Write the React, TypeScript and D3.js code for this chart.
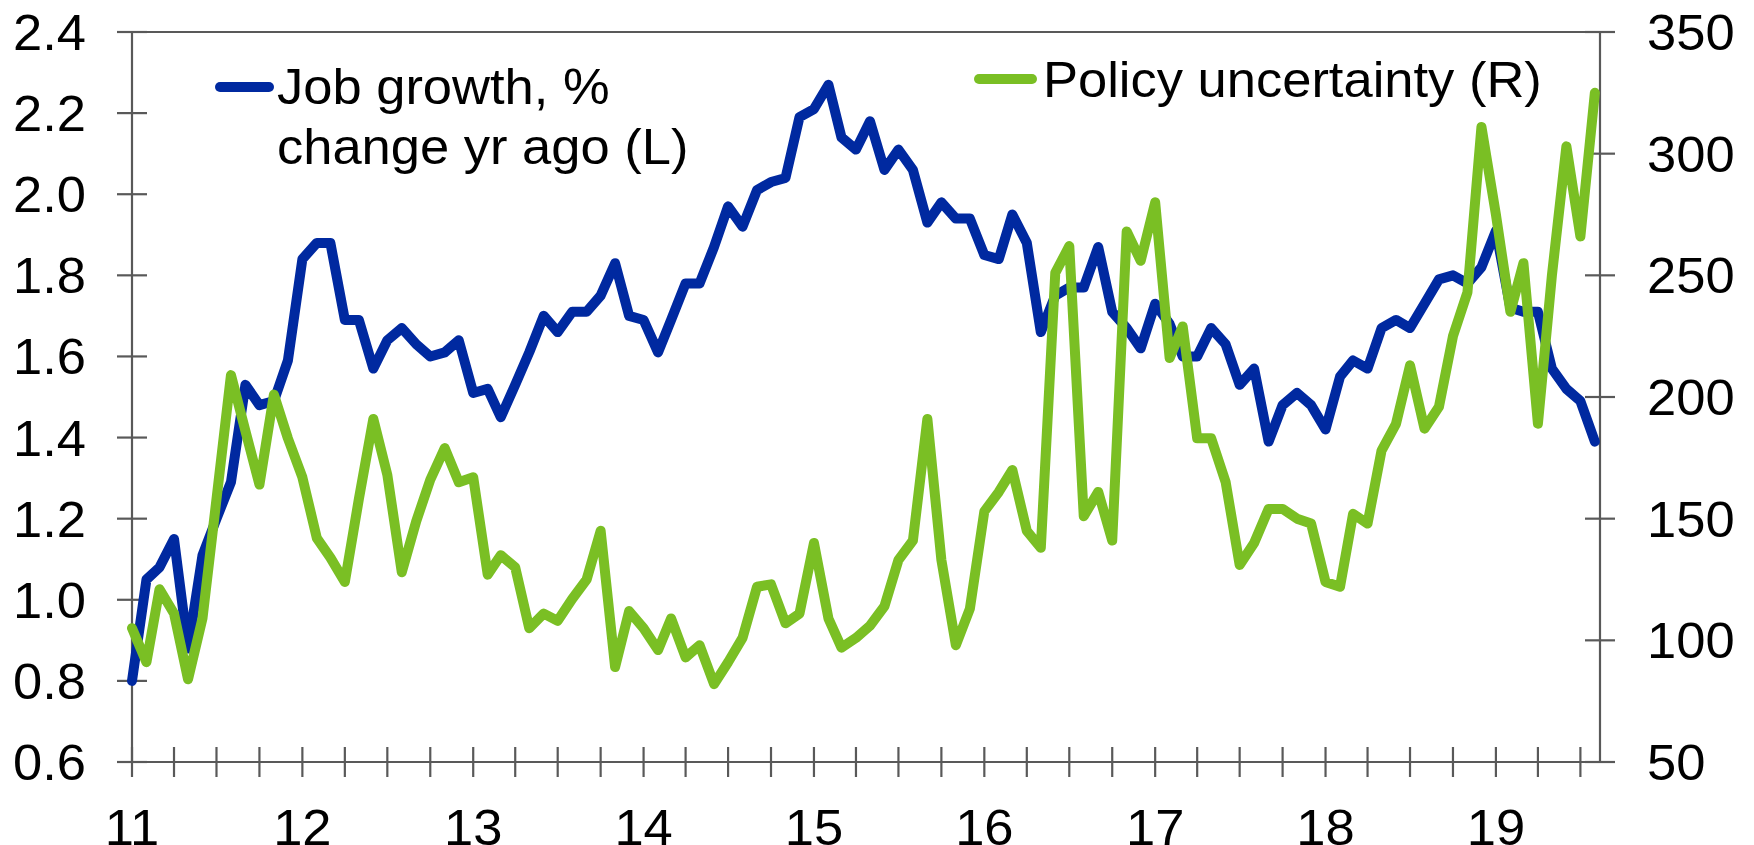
import React from 'react';
import * as d3 from 'd3';

// monthly observations, Jan 2011 .. Aug 2019
const months = d3.timeMonth.range(new Date(2011, 0, 1), new Date(2019, 8, 1));

const jobGrowth = [
  0.80, 1.05, 1.08, 1.15, 0.88, 1.11, 1.20, 1.29, 1.53, 1.48, 1.49, 1.59,
  1.84, 1.88, 1.88, 1.69, 1.69, 1.57, 1.64, 1.67, 1.63, 1.60, 1.61, 1.64,
  1.51, 1.52, 1.45, 1.53, 1.61, 1.70, 1.66, 1.71, 1.71, 1.75, 1.83, 1.70,
  1.69, 1.61, 1.69, 1.78, 1.78, 1.87, 1.97, 1.92, 2.01, 2.03, 2.04, 2.19,
  2.21, 2.27, 2.14, 2.11, 2.18, 2.06, 2.11, 2.06, 1.93, 1.98, 1.94, 1.94,
  1.85, 1.84, 1.95, 1.88, 1.66, 1.75, 1.77, 1.77, 1.87, 1.71, 1.67, 1.62,
  1.73, 1.68, 1.60, 1.60, 1.67, 1.63, 1.53, 1.57, 1.39, 1.48, 1.51, 1.48,
  1.42, 1.55, 1.59, 1.57, 1.67, 1.69, 1.67, 1.73, 1.79, 1.80, 1.78, 1.82,
  1.91, 1.72, 1.71, 1.71, 1.57, 1.52, 1.49, 1.39
];

const policyUncertainty = [
  105, 91, 121, 111, 84, 109, 158, 209, 186, 164, 201, 183,
  167, 142, 134, 124, 158, 191, 168, 128, 149, 166, 179, 165,
  167, 127, 135, 130, 105, 111, 108, 117, 125, 145, 89, 112,
  105, 96, 109, 93, 98, 82, 91, 101, 122, 123, 107, 111,
  140, 109, 97, 101, 106, 114, 133, 141, 191, 133, 98, 113,
  153, 161, 170, 145, 138, 251, 262, 151, 161, 141, 268, 256,
  280, 216, 229, 183, 183, 165, 131, 140, 154, 154, 150, 148,
  124, 122, 152, 148, 178, 189, 213, 187, 196, 225, 243, 311,
  275, 235, 255, 189, 250, 303, 266, 325
];

const leftTicks = [0.6, 0.8, 1.0, 1.2, 1.4, 1.6, 1.8, 2.0, 2.2, 2.4];
const rightTicks = [50, 100, 150, 200, 250, 300, 350];
const yearLabels = ['11', '12', '13', '14', '15', '16', '17', '18', '19'];

const BLUE = '#0029a0';
const GREEN = '#7abf24';
const GREY = '#595959';
const FONT = '"Liberation Sans", Arial, sans-serif';

const left = 132, right = 1600, top = 32, bottom = 762;

const Label = ({ x, y, anchor, children }: any) => (
  <g transform={`translate(${x},${y}) scale(1.05,1)`}>
    <text x={0} y={0} textAnchor={anchor} fontSize={50} fontFamily={FONT} fill="#000">
      {children}
    </text>
  </g>
);

const App = () => {
  const x = d3.scaleTime()
    .domain([new Date(2011, 0, 1), new Date(2019, 7, 12)])
    .range([left, right]);
  const yL = d3.scaleLinear().domain([0.6, 2.4]).range([bottom, top]);
  const yR = d3.scaleLinear().domain([50, 350]).range([bottom, top]);

  const blueLine = d3.line<number>()
    .x((d, i) => x(months[i]))
    .y(d => yL(d));
  const greenLine = d3.line<number>()
    .x((d, i) => x(months[i]))
    .y(d => yR(d));

  const quarterTicks = d3.timeMonth.every(3)!.range(new Date(2011, 0, 1), new Date(2019, 7, 2));
  const fmt = d3.format('.1f');

  return (
    <svg width={1754} height={845} style={{ position: 'absolute', left: 0, top: 0, background: '#fff' }}>
      {/* frame */}
      <line x1={left} x2={right} y1={top} y2={top} stroke={GREY} strokeWidth={2.2} />
      <line x1={left} x2={left} y1={top} y2={bottom} stroke={GREY} strokeWidth={2.2} />
      <line x1={right} x2={right} y1={top} y2={bottom} stroke={GREY} strokeWidth={2.2} />
      <line x1={left - 15} x2={right + 15} y1={bottom} y2={bottom} stroke={GREY} strokeWidth={2.2} />

      {leftTicks.map(t => (
        <g key={'l' + t}>
          <line x1={left - 15} x2={left + 15} y1={yL(t)} y2={yL(t)} stroke={GREY} strokeWidth={2.2} />
          <Label x={86} y={yL(t) + 18} anchor="end">{fmt(t)}</Label>
        </g>
      ))}
      {rightTicks.map(t => (
        <g key={'r' + t}>
          <line x1={right - 15} x2={right + 15} y1={yR(t)} y2={yR(t)} stroke={GREY} strokeWidth={2.2} />
          <Label x={1647} y={yR(t) + 18} anchor="start">{t}</Label>
        </g>
      ))}
      {quarterTicks.map(d => (
        <line key={+d} x1={x(d)} x2={x(d)} y1={bottom - 15} y2={bottom + 15} stroke={GREY} strokeWidth={2.2} />
      ))}
      {yearLabels.map((lab, i) => (
        <Label key={lab} x={x(new Date(2011 + i, 0, 1))} y={845} anchor="middle">{lab}</Label>
      ))}

      <path d={blueLine(jobGrowth) || ''} fill="none" stroke={BLUE} strokeWidth={10}
        strokeLinejoin="round" strokeLinecap="round" />
      <path d={greenLine(policyUncertainty) || ''} fill="none" stroke={GREEN} strokeWidth={10}
        strokeLinejoin="round" strokeLinecap="round" />

      {/* legend */}
      <line x1={220} x2={269} y1={87} y2={87} stroke={BLUE} strokeWidth={10} strokeLinecap="round" />
      <Label x={277} y={104} anchor="start">Job growth, %</Label>
      <Label x={277} y={164} anchor="start">change yr ago (L)</Label>
      <line x1={979} x2={1032} y1={79} y2={79} stroke={GREEN} strokeWidth={10} strokeLinecap="round" />
      <Label x={1043} y={97} anchor="start">Policy uncertainty (R)</Label>
    </svg>
  );
};

export default App;
